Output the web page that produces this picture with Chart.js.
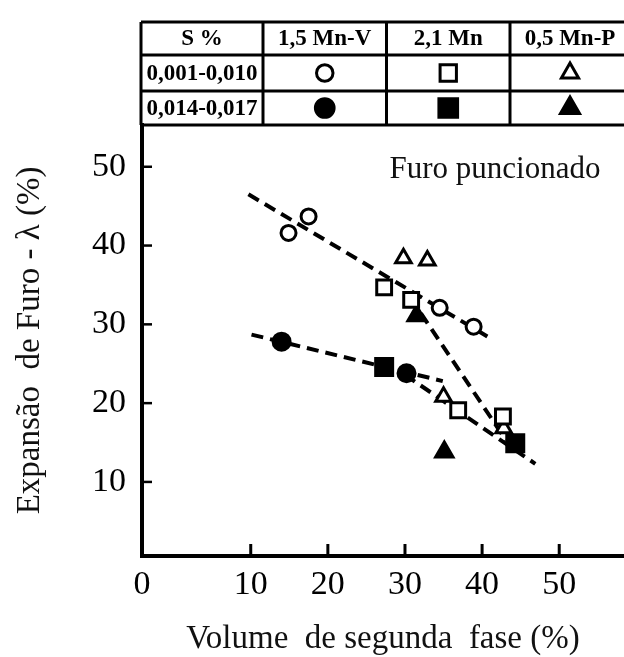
<!DOCTYPE html>
<html>
<head>
<meta charset="utf-8">
<script src="https://cdn.jsdelivr.net/npm/chart.js@4/dist/chart.umd.min.js"></script>
<style>
  html, body { margin: 0; padding: 0; background: #fff; overflow: hidden; }
  #wrap { width: 624px; height: 657px; position: relative; }
  canvas { display: block; }
</style>
</head>
<body>
<div id="wrap"><canvas id="c"></canvas></div>
<script>
// eixos
const xMin = -4.1, xMax = 58.4;
const yMin = 0.6, yMax = 55.3;
const xTickVals = [xMin, 10, 20, 30, 40, 50];
const xTickLabels = ['0', '10', '20', '30', '40', '50'];
const yTickVals = [10, 20, 30, 40, 50];

// tabela de símbolos
const steels = ['1,5 Mn-V', '2,1 Mn', '0,5 Mn-P'];
const sRanges = ['0,001-0,010', '0,014-0,017'];

// pontos: S 0,001-0,010 (abertos)
const mnvLowX = [14.9, 17.5, 34.5, 38.9];
const mnvLowY = [41.6, 43.7, 32.1, 29.7];
const mnLowX = [27.3, 30.8, 36.9, 42.7];
const mnLowY = [34.7, 33.1, 19.1, 18.3];
const mnpLowX = [29.8, 32.9, 35.0, 42.8];
const mnpLowY = [38.4, 38.1, 20.8, 16.8];

// S 0,014-0,017 (cheios)
const mnvHighX = [14.0, 30.2];
const mnvHighY = [27.8, 23.8];
const mnHighX = [27.3, 44.3];
const mnHighY = [24.6, 14.9];
const mnpHighX = [31.5, 35.1];
const mnpHighY = [31.1, 13.8];

// retas tracejadas
const trend1X = [9.7, 41.3], trend1Y = [46.5, 28.1];
const trend2X = [10.1, 34.9], trend2Y = [28.7, 22.8];
const trend3X = [30.0, 46.9], trend3Y = [23.6, 12.3];
const trend4X = [30.7, 43.1], trend4Y = [33.4, 15.3];

const pts = (xs, ys) => xs.map((x, i) => ({ x, y: ys[i] }));

Chart.defaults.font.family = '"Liberation Serif", "Times New Roman", serif';
Chart.defaults.color = '#000';

function marker(data, style, radius, filled) {
  return {
    data,
    showLine: false,
    pointStyle: style,
    pointRadius: radius,
    pointHoverRadius: radius,
    pointBorderWidth: 3,
    pointBorderColor: '#000',
    pointBackgroundColor: filled ? '#000' : '#fff',
    order: 1,
  };
}

function trend(data) {
  return {
    data,
    showLine: true,
    borderColor: '#000',
    borderWidth: 4,
    borderDash: [12, 7],
    pointRadius: 0,
    fill: false,
    order: 2,
  };
}

const markers = [
  marker(pts(mnvLowX, mnvLowY), 'circle', 7.5, false),
  marker(pts(mnLowX, mnLowY), 'rect', 10.5, false),
  marker(pts(mnpLowX, mnpLowY), 'triangle', 9, false),
  marker(pts(mnvHighX, mnvHighY), 'circle', 8.5, true),
  marker(pts(mnHighX, mnHighY), 'rect', 12, true),
  marker(pts(mnpHighX, mnpHighY), 'triangle', 10, true),
];

const tablePlugin = {
  id: 'tabela',
  afterDraw(chart) {
    const ctx = chart.ctx;
    const cols = [141, 263, 386.5, 510, 630];
    const rows = [22, 55, 91, 125];
    ctx.save();
    ctx.strokeStyle = '#000';
    ctx.lineWidth = 3;
    rows.forEach(y => { ctx.beginPath(); ctx.moveTo(cols[0], y); ctx.lineTo(cols[4], y); ctx.stroke(); });
    cols.forEach(x => { ctx.beginPath(); ctx.moveTo(x, rows[0]); ctx.lineTo(x, rows[3]); ctx.stroke(); });

    ctx.font = 'bold 23px "Liberation Serif", serif';
    ctx.fillStyle = '#000';
    ctx.textAlign = 'center';
    ctx.textBaseline = 'middle';
    const cx = i => (cols[i] + cols[i + 1]) / 2;
    const cy = j => (rows[j] + rows[j + 1]) / 2 + 1;
    ctx.fillText('S %', cx(0), cy(0));
    steels.forEach((s, i) => ctx.fillText(s, cx(i + 1), cy(0)));
    sRanges.forEach((s, j) => ctx.fillText(s, cx(0), cy(j + 1)));

    // símbolos: mesmos estilos dos conjuntos de dados
    markers.forEach((ds, k) => {
      const i = k % 3, j = Math.floor(k / 3);
      ctx.lineWidth = ds.pointBorderWidth;
      ctx.strokeStyle = ds.pointBorderColor;
      ctx.fillStyle = ds.pointBackgroundColor;
      Chart.helpers.drawPoint(ctx, {
        pointStyle: ds.pointStyle,
        radius: ds.pointRadius * 1.1,
        borderWidth: ds.pointBorderWidth,
        rotation: 0,
      }, cx(i + 1), cy(j + 1) - 1);
    });

    ctx.font = '31px "Liberation Serif", serif';
    ctx.fillStyle = '#111';
    ctx.textBaseline = 'alphabetic';
    ctx.fillText('Furo puncionado', 495, 178);
    ctx.restore();
  },
};

const innerTicks = {
  id: 'marcasInternas',
  afterDatasetsDraw(chart) {
    const { ctx, chartArea: a, scales } = chart;
    ctx.save();
    ctx.strokeStyle = '#000';
    ctx.lineWidth = 3;
    scales.x.ticks.forEach(t => {
      if (t.value <= xMin) return;
      const px = scales.x.getPixelForValue(t.value);
      ctx.beginPath(); ctx.moveTo(px, a.bottom); ctx.lineTo(px, a.bottom - 12); ctx.stroke();
    });
    ctx.lineWidth = 2.5;
    scales.y.ticks.forEach(t => {
      const py = scales.y.getPixelForValue(t.value);
      ctx.beginPath(); ctx.moveTo(a.left, py); ctx.lineTo(a.left + 10, py); ctx.stroke();
    });
    ctx.restore();
  },
};

new Chart(document.getElementById('c'), {
  type: 'scatter',
  data: {
    datasets: [
      ...markers,
      trend(pts(trend1X, trend1Y)),
      trend(pts(trend2X, trend2Y)),
      trend(pts(trend3X, trend3Y)),
      trend(pts(trend4X, trend4Y)),
    ],
  },
  options: {
    responsive: true,
    maintainAspectRatio: false,
    animation: false,
    layout: { autoPadding: false, padding: { top: 125, left: 0, right: 0, bottom: 0 } },
    plugins: { legend: { display: false }, tooltip: { enabled: false } },
    scales: {
      x: {
        type: 'linear',
        min: xMin,
        max: xMax,
        afterBuildTicks: s => { s.ticks = xTickVals.map(v => ({ value: v })); },
        afterFit: s => { s.height = 101; },
        grid: { display: false, drawTicks: false },
        border: { display: true, color: '#000', width: 4 },
        ticks: {
          autoSkip: false,
          maxRotation: 0,
          padding: 9,
          font: { size: 34 },
          callback: (v, i) => xTickLabels[i],
        },
        title: {
          display: true,
          text: 'Volume  de segunda  fase (%)',
          font: { size: 33, lineHeight: 1.05 },
          color: '#111',
          padding: 0,
        },
      },
      y: {
        type: 'linear',
        min: yMin,
        max: yMax,
        afterBuildTicks: s => { s.ticks = yTickVals.map(v => ({ value: v })); },
        afterFit: s => { s.width = 142; },
        grid: { display: false, drawTicks: false },
        border: { display: true, color: '#000', width: 4 },
        ticks: { autoSkip: false, padding: 16, font: { size: 34 } },
        title: {
          display: true,
          text: 'Expansão  de Furo - λ (%)',
          font: { size: 33, lineHeight: 1.2 },
          color: '#111',
          padding: { top: 11, bottom: 0 },
        },
      },
    },
  },
  plugins: [tablePlugin, innerTicks],
});
</script>
</body>
</html>
